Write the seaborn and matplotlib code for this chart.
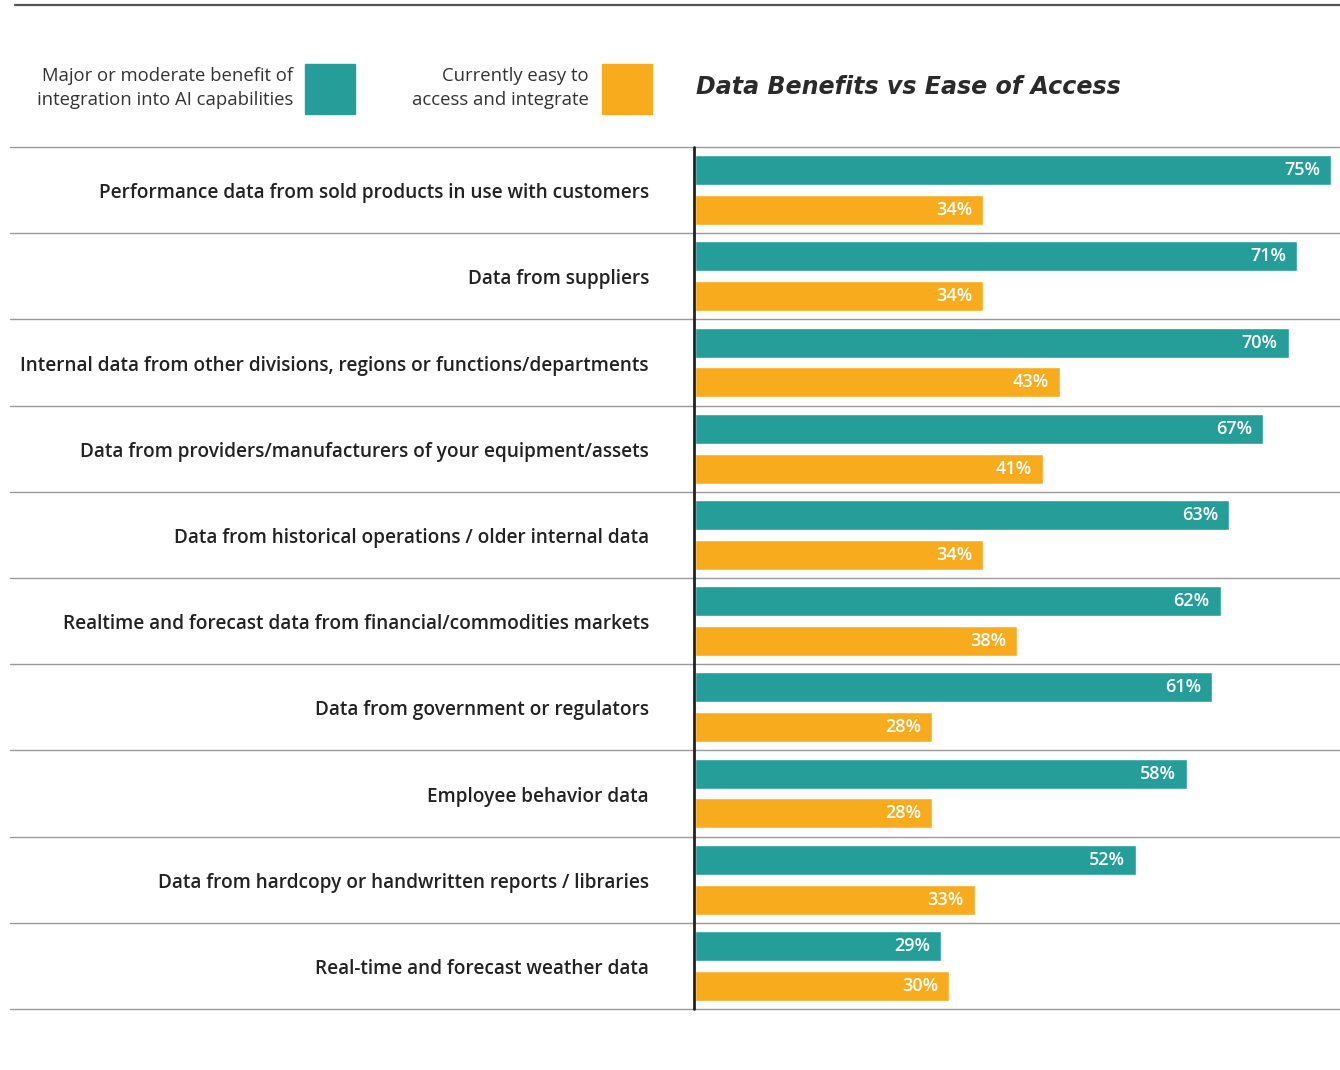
import pandas as pd
import matplotlib.pyplot as plt
import seaborn as sns
from matplotlib.patches import Rectangle
from matplotlib.lines import Line2D

categories = [
    "Performance data from sold products in use with customers",
    "Data from suppliers",
    "Internal data from other divisions, regions or functions/departments",
    "Data from providers/manufacturers of your equipment/assets",
    "Data from historical operations / older internal data",
    "Realtime and forecast data from financial/commodities markets",
    "Data from government or regulators",
    "Employee behavior data",
    "Data from hardcopy or handwritten reports / libraries",
    "Real-time and forecast weather data",
]
benefit = [75, 71, 70, 67, 63, 62, 61, 58, 52, 29]
easy = [34, 34, 43, 41, 34, 38, 28, 28, 33, 30]

series_names = [
    "Major or moderate benefit of\nintegration into AI capabilities",
    "Currently easy to\naccess and integrate",
]
colors = ["#259e9a", "#f9ab1e"]

df = pd.DataFrame({"Category": categories, series_names[0]: benefit, series_names[1]: easy})
plot_df = df.melt(id_vars="Category", var_name="Series", value_name="Value")

sns.set_style("white")
plt.rcParams["font.family"] = ["Open Sans", "DejaVu Sans"]

fig = plt.figure(figsize=(13.4, 10.7), dpi=100)
ax = fig.add_axes([695 / 1340, 1 - 1009 / 1070, 645 / 1340, 862 / 1070])

sns.barplot(
    data=plot_df,
    y="Category",
    x="Value",
    hue="Series",
    palette=colors,
    saturation=1,
    orient="h",
    width=0.928,
    gap=0.25,
    legend=False,
    ax=ax,
)

ax.set_xlim(0, 76.06)
ax.set_ylim(len(categories) - 0.5, -0.5)
ax.set_xlabel("")
ax.set_ylabel("")
ax.set_xticks([])
ax.set_yticks([])
for s in ax.spines.values():
    s.set_visible(False)

# value labels inside the bar ends
for container in ax.containers:
    texts = ax.bar_label(
        container,
        fmt="%g%%",
        padding=-8,
        color="white",
        fontsize=13,
        fontweight="semibold",
    )
    for t in texts:
        t.set_ha("right")

# category labels
for i, cat in enumerate(categories):
    ax.text(-46 / 8.48, i + 0.035, cat, ha="right", va="center",
            fontsize=13.7, fontweight="semibold", color="#222222")

# row separators and axis line
for i in range(len(categories) + 1):
    y = 1 - (147 + i * 86.2) / 1070
    fig.add_artist(Line2D([10 / 1340, 1.0], [y, y], color="#9a9a9a", lw=1.0))
fig.add_artist(Line2D([694 / 1340, 694 / 1340], [1 - 147 / 1070, 1 - 1009 / 1070],
                      color="#222222", lw=2.0))
fig.add_artist(Line2D([15 / 1340, 1.0], [1 - 5 / 1070, 1 - 5 / 1070],
                      color="#555555", lw=1.6))

# legend
fig.text(293 / 1340, 1 - 88 / 1070, series_names[0], ha="right", va="center",
         fontsize=13.3, color="#333333", linespacing=1.45, multialignment="right")
fig.add_artist(Rectangle((305 / 1340, 1 - 114 / 1070), 50 / 1340, 50 / 1070,
                         transform=fig.transFigure, color=colors[0]))
fig.text(589 / 1340, 1 - 88 / 1070, series_names[1], ha="right", va="center",
         fontsize=13.3, color="#333333", linespacing=1.45, multialignment="right")
fig.add_artist(Rectangle((602 / 1340, 1 - 114 / 1070), 50 / 1340, 50 / 1070,
                         transform=fig.transFigure, color=colors[1]))

fig.text(696 / 1340, 1 - 87 / 1070, "Data Benefits vs Ease of Access", ha="left",
         va="center", fontsize=17.1, fontstyle="oblique", fontweight="bold",
         family=["DejaVu Sans"], color="#2a2a2a")

fig.savefig("out.png", dpi=100)
